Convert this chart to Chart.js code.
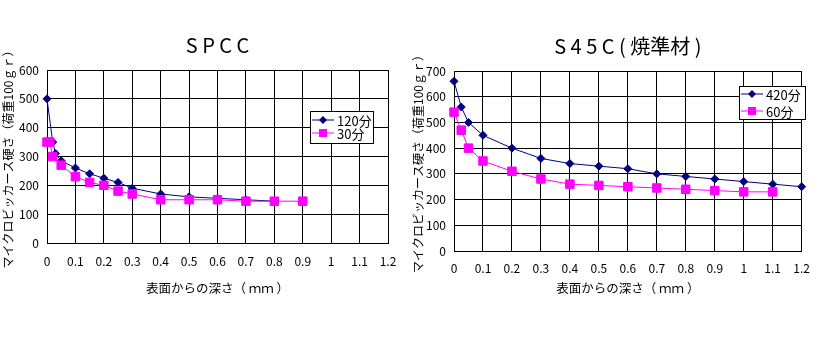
<!DOCTYPE html>
<html>
<head>
<meta charset="utf-8">
<title>硬さ分布</title>
<script src="https://cdn.jsdelivr.net/npm/chart.js"></script>
<style>
  body { margin: 0; background: #fff; }
  .box { position: absolute; top: 0; width: 410px; height: 340px; }
  #boxSpcc { left: 0; }
  #boxS45c { left: 410px; }
</style>
</head>
<body>
<div class="box" id="boxSpcc"><canvas id="chartSpcc" width="410" height="340"></canvas></div>
<div class="box" id="boxS45c"><canvas id="chartS45c" width="410" height="340"></canvas></div>
<script>
// SPCC  表面からの深さ(mm) / 硬さ
const depthSpcc120 = [0, 0.02, 0.03, 0.05, 0.1, 0.15, 0.2, 0.25, 0.3, 0.4, 0.5, 0.6, 0.7, 0.8];
const hvSpcc120 = [500, 350, 310, 285, 260, 240, 225, 210, 190, 170, 160, 155, 150, 145];
const depthSpcc30 = [0, 0.01, 0.02, 0.05, 0.1, 0.15, 0.2, 0.25, 0.3, 0.4, 0.5, 0.6, 0.7, 0.8, 0.9];
const hvSpcc30 = [350, 350, 300, 270, 230, 210, 200, 180, 170, 150, 150, 150, 145, 145, 145];

// S45C(焼準材)
const depthS45c420 = [0, 0.025, 0.05, 0.1, 0.2, 0.3, 0.4, 0.5, 0.6, 0.7, 0.8, 0.9, 1.0, 1.1, 1.2];
const hvS45c420 = [660, 560, 500, 450, 400, 360, 340, 330, 320, 300, 290, 280, 270, 260, 250];
const depthS45c60 = [0, 0.025, 0.05, 0.1, 0.2, 0.3, 0.4, 0.5, 0.6, 0.7, 0.8, 0.9, 1.0, 1.1];
const hvS45c60 = [540, 470, 400, 350, 310, 280, 260, 255, 250, 245, 240, 235, 230, 230];

const labelsSpcc = ['120分', '30分'];
const labelsS45c = ['420分', '60分'];

const FONT = '"Noto Sans CJK JP", "DejaVu Sans", sans-serif';
const NAVY = '#000080';
const PINK = '#ff00ff';

function toPoints(xs, ys) {
  return xs.map((x, i) => ({ x: x, y: ys[i] }));
}

// 凡例をプロット内の枠に描く
const boxLegend = {
  id: 'boxLegend',
  afterDraw(chart, args, opts) {
    const ctx = chart.ctx;
    ctx.save();
    ctx.fillStyle = '#fff';
    ctx.fillRect(opts.x, opts.y, opts.w, opts.h);
    ctx.strokeStyle = '#000';
    ctx.lineWidth = 1;
    ctx.strokeRect(opts.x + 0.5, opts.y + 0.5, opts.w, opts.h);
    chart.data.datasets.forEach((ds, i) => {
      const cy = opts.y + opts.rowTop + i * opts.rowGap;
      const x0 = opts.x + 2, x1 = x0 + 22, mx = (x0 + x1) / 2;
      ctx.strokeStyle = ds.borderColor;
      ctx.beginPath();
      ctx.moveTo(x0, cy);
      ctx.lineTo(x1, cy);
      ctx.stroke();
      ctx.fillStyle = ds.pointBackgroundColor;
      ctx.beginPath();
      if (ds.pointStyle === 'rectRot') {
        ctx.moveTo(mx, cy - 4);
        ctx.lineTo(mx + 4, cy);
        ctx.lineTo(mx, cy + 4);
        ctx.lineTo(mx - 4, cy);
        ctx.closePath();
      } else {
        ctx.rect(mx - 4, cy - 4, 8, 8);
      }
      ctx.fill();
      ctx.fillStyle = '#000';
      ctx.font = '13px ' + FONT;
      ctx.textBaseline = 'middle';
      ctx.fillText(ds.label, x1 + 3, cy + 1);
    });
    ctx.restore();
  }
};

function makeChart(id, conf) {
  return new Chart(document.getElementById(id), {
    type: 'scatter',
    data: {
      datasets: [
        {
          label: conf.labels[0],
          data: conf.series[0],
          showLine: true,
          clip: false,
          borderColor: NAVY,
          borderWidth: 1,
          pointStyle: 'rectRot',
          pointRadius: 4,
          pointBackgroundColor: NAVY,
          pointBorderColor: NAVY,
          order: 2
        },
        {
          label: conf.labels[1],
          data: conf.series[1],
          showLine: true,
          clip: false,
          borderColor: PINK,
          borderWidth: 1,
          pointStyle: 'rect',
          pointRadius: 6,
          pointBackgroundColor: PINK,
          pointBorderColor: PINK,
          order: 1
        }
      ]
    },
    options: {
      responsive: false,
      animation: false,
      layout: { padding: { left: 0, right: conf.padRight, top: 0, bottom: 40 } },
      plugins: {
        legend: { display: false },
        tooltip: { enabled: false },
        title: {
          display: true,
          fullSize: false,
          text: conf.title,
          color: '#000',
          font: { family: FONT, size: 20, weight: 'normal', lineHeight: 1.2 },
          padding: { top: conf.titleTop, bottom: 13 }
        },
        boxLegend: conf.legend
      },
      scales: {
        x: {
          type: 'linear',
          min: 0,
          max: 1.2,
          ticks: {
            stepSize: 0.1,
            color: '#000',
            padding: conf.xTickPad,
            maxRotation: 0,
            font: { family: FONT, size: 12 },
            callback: v => String(Number(v.toFixed(1)))
          },
          grid: { color: '#000', drawTicks: false },
          border: { color: '#000' },
          title: {
            display: true,
            text: '表面からの深さ（ ｍｍ ）',
            color: '#000',
            font: { family: FONT, size: 12.5, lineHeight: 1.2 },
            padding: { top: 0, bottom: 4 }
          },
          afterFit: s => { s.height = conf.xHeight; }
        },
        y: {
          min: 0,
          max: conf.yMax,
          ticks: {
            stepSize: 100,
            color: '#000',
            padding: 8,
            font: { family: FONT, size: 12 }
          },
          grid: { color: '#000', drawTicks: false },
          border: { color: '#000' },
          title: {
            display: true,
            text: 'マイクロビッカース硬さ（荷重100ｇｒ）',
            color: '#000',
            font: { family: FONT, size: 12, lineHeight: 1.2 },
            padding: 1
          },
          afterFit: s => { s.width = conf.yWidth; }
        }
      }
    },
    plugins: [boxLegend]
  });
}

makeChart('chartSpcc', {
  title: 'S P C C',
  labels: labelsSpcc,
  series: [toPoints(depthSpcc120, hvSpcc120), toPoints(depthSpcc30, hvSpcc30)],
  yMax: 600,
  yWidth: 47,
  padRight: 22,
  titleTop: 33,
  xHeight: 57,
  xTickPad: 11,
  legend: { x: 310, y: 111, w: 63, h: 32, rowTop: 9, rowGap: 13 }
});

makeChart('chartS45c', {
  title: 'S 4 5 C ( 焼準材 )',
  labels: labelsS45c,
  series: [toPoints(depthS45c420, hvS45c420), toPoints(depthS45c60, hvS45c60)],
  yMax: 700,
  yWidth: 44,
  padRight: 8,
  titleTop: 34,
  xHeight: 49,
  xTickPad: 10,
  legend: { x: 329, y: 86, w: 66, h: 33, rowTop: 8, rowGap: 17 }
});
</script>
</body>
</html>
